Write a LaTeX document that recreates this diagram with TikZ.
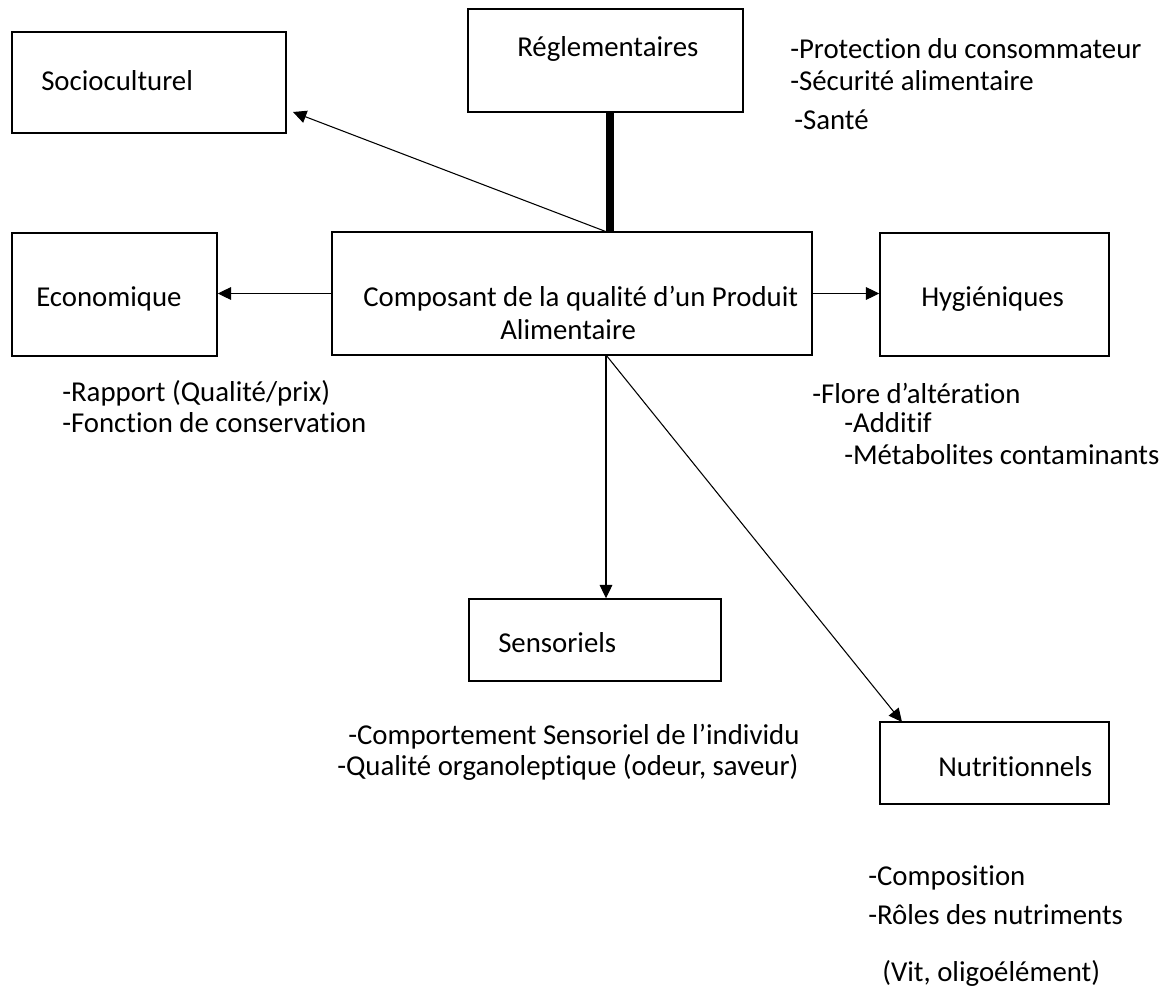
\documentclass[tikz,border=0pt]{standalone}
\usepackage{fontspec}
\setmainfont[Ligatures={NoCommon}]{Carlito}
\usetikzlibrary{arrows.meta,fit}
\begin{document}
\begin{tikzpicture}[x=0.75pt,y=-0.75pt,
  box/.style={draw, line width=1.1pt, inner sep=0pt},
  lbl/.style={anchor=west, inner sep=0pt, font=\fontsize{21.6pt}{26pt}\selectfont},
  conn/.style={line width=0.8pt, -{Triangle[length=10pt,width=9.5pt]}},
  thickbar/.style={line width=6pt}]
\useasboundingbox (0,0) rectangle (1173,991);
% boxes
\node[box, fit={(12,32) (286,133)}] (soc) {};
\node[box, fit={(468,9) (743,112)}] (reg) {};
\node[box, fit={(12,233) (217,356)}] (eco) {};
\node[box, fit={(332,232) (812,355)}] (cen) {};
\node[box, fit={(880,233) (1109,356)}] (hyg) {};
\node[box, fit={(469,599) (721,681)}] (sen) {};
\node[box, fit={(880,722) (1109,804)}] (nut) {};
% box labels
\node[lbl] (socT) at (41,81) {Socioculturel};
\node[lbl] (regT) at (517,49) {Réglementaires};
\node[lbl] (ecoT) at (36,299) {Economique};
\node[lbl] (cenT1) at (363,299) {Composant de la qualité d’un Produit};
\node[lbl] (cenT2) at (500,330) {Alimentaire};
\node[lbl] (hygT) at (921,299) {Hygiéniques};
\node[lbl] (senT) at (498,643) {Sensoriels};
\node[lbl] (nutT) at (938,767) {Nutritionnels};
% side texts
\node[lbl] (r1) at (790,49) {-Protection du consommateur};
\node[lbl] (r2) at (790,81) {-Sécurité alimentaire};
\node[lbl] (r3) at (794,120) {-Santé};
\node[lbl] (e1) at (62,393) {-Rapport (Qualité/prix)};
\node[lbl] (e2) at (62,423) {-Fonction de conservation};
\node[lbl] (h1) at (812,393) {-Flore d’altération};
\node[lbl] (h2) at (844,423) {-Additif};
\node[lbl] (h3) at (844,455) {-Métabolites contaminants};
\node[lbl] (s1) at (348,737) {-Comportement Sensoriel de l’individu};
\node[lbl] (s2) at (337,767) {-Qualité organoleptique (odeur, saveur)};
\node[lbl] (n1) at (868,878) {-Composition};
\node[lbl] (n2) at (868,915) {-Rôles des nutriments};
\node[lbl] (n3) at (882,973) {(Vit, oligoélément)};
% helper coordinates
\coordinate (barx) at (610,0);
\coordinate (top) at (607,232);
\coordinate (socTip) at (293,112);
\coordinate (split) at (606,355);
\coordinate (nutIn) at (902,722);
% connectors
\draw[thickbar] (reg.south -| barx) -- (cen.north -| barx);
\draw[conn] (top) -- (socTip);
\draw[conn] (cen.west) -- (cen.west -| eco.east);
\draw[conn] (cen.east) -- (cen.east -| hyg.west);
\draw[conn] (split) -- (split |- sen.north);
\draw[conn] (split) -- (nutIn);
\end{tikzpicture}
\end{document}
